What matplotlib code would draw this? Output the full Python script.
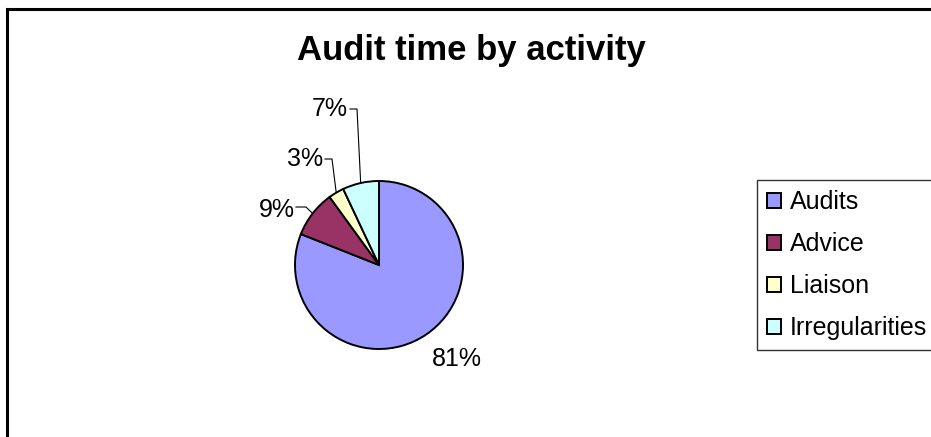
import matplotlib
matplotlib.use("Agg")
import matplotlib.pyplot as plt
from matplotlib.patches import Rectangle
import numpy as np

plt.rcParams['font.family'] = ['Liberation Sans', 'DejaVu Sans']

categories = ["Audits", "Advice", "Liaison", "Irregularities"]
values = [81, 9, 3, 7]
colors = ["#9999FF", "#993366", "#FFFFCC", "#CCFFFF"]
title = "Audit time by activity"

W, H = 931, 437
fig = plt.figure(figsize=(W / 100, H / 100), dpi=100)

# pie geometry in pixels
cx, cy, R = 379, 265, 84
ax = fig.add_axes([0, 0, 1, 1])

wedges, _ = ax.pie(values, colors=colors, startangle=90, counterclock=False,
                   radius=1.0, wedgeprops=dict(edgecolor='black', linewidth=1.4))
ax.set_xlim(-cx / R, (W - cx) / R)
ax.set_ylim(-(H - cy) / R, cy / R)
ax.set_aspect('auto')
ax.axis('off')

def px(x, y):
    return ((x - cx) / R, (cy - y) / R)

# labels: (text center-x / baseline px, leader line points px or None)
label_pos = {
    "Audits": ((457, 366), None),
    "Advice": ((277, 217), [(296, 207), (306, 207)]),
    "Liaison": ((305, 166), [(325, 159), (332, 159)]),
    "Irregularities": ((330, 116), [(350, 109), (357, 109)]),
}
for w, cat, v in zip(wedges, categories, values):
    (tx, ty), pts = label_pos[cat]
    x, y = px(tx, ty)
    ax.text(x, y, f"{v}%", ha='center', va='baseline', fontsize=18, color='black')
    if pts:
        mid = np.deg2rad((w.theta1 + w.theta2) / 2)
        ex, ey = np.cos(mid) * 1.0, np.sin(mid) * 1.0
        xs = [px(*p)[0] for p in pts] + [ex]
        ys = [px(*p)[1] for p in pts] + [ey]
        ax.plot(xs, ys, color='black', linewidth=0.8)

fig.text(471 / W, 1 - 60 / H, title, ha='center', va='baseline', fontsize=25,
         fontweight='bold')

leg = fig.legend(wedges, categories, loc='upper left',
                 bbox_to_anchor=(757 / W, 1 - 180 / H), fontsize=18,
                 frameon=True, fancybox=False, edgecolor='black',
                 handlelength=0.55, handleheight=0.55, handletextpad=0.35,
                 labelspacing=0.72, borderpad=0.4, borderaxespad=0)
leg.get_frame().set_linewidth(1.0)

frame = Rectangle((7 / W, -0.1), 1.2, (1 - 9 / H) + 0.1, transform=fig.transFigure,
                  fill=False, edgecolor='black', linewidth=2.2)
fig.patches.append(frame)

fig.savefig("out.png", dpi=100)
